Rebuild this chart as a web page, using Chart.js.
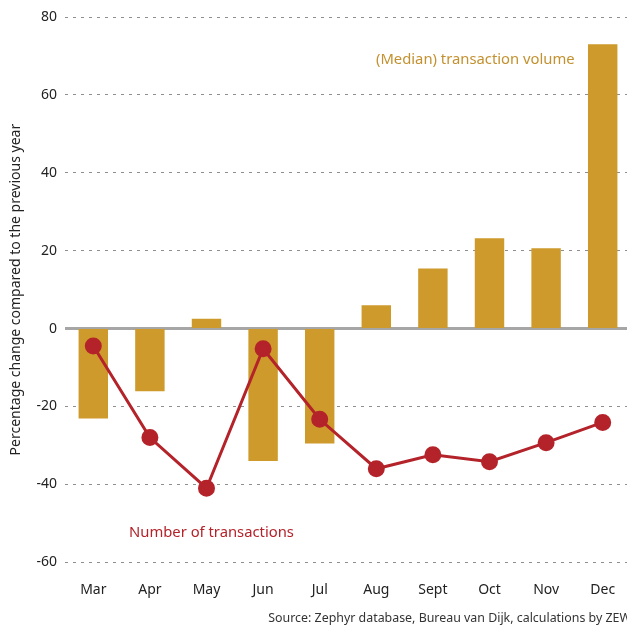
<!DOCTYPE html>
<html>
<head>
<meta charset="utf-8">
<script src="https://cdn.jsdelivr.net/npm/chart.js@4"></script>
<style>
  html, body { margin: 0; padding: 0; background: #fff; overflow: hidden; }
  #wrap { width: 641px; height: 626px; }
</style>
</head>
<body>
<div id="wrap"><canvas id="chart"></canvas></div>
<script>
const months = ['Mar', 'Apr', 'May', 'Jun', 'Jul', 'Aug', 'Sept', 'Oct', 'Nov', 'Dec'];
const volumeChange = [-23.1, -16.1, 2.5, -34, -29.5, 6, 15.4, 23.2, 20.6, 73];
const countChange = [-4.5, -28, -41, -5.2, -23.3, -36, -32.4, -34.2, -29.3, -24.1];
const yTicks = [-60, -40, -20, 0, 20, 40, 60, 80];

const FONT = '"Noto Sans", sans-serif';
const GOLD = '#cd9a2b';
const RED = '#b4232a';

// annotations + source line
const labelsPlugin = {
  id: 'labels',
  afterDraw(chart) {
    const ctx = chart.ctx;
    ctx.save();
    ctx.font = '14.8px ' + FONT;
    ctx.textBaseline = 'middle';
    ctx.textAlign = 'left';
    ctx.fillStyle = '#c3912f';
    ctx.fillText('(Median) transaction volume', 376, 60);
    ctx.fillStyle = RED;
    ctx.fillText('Number of transactions', 129, 533);
    ctx.font = '12.4px ' + FONT;
    ctx.fillStyle = '#333';
    ctx.textAlign = 'right';
    ctx.fillText('Source: Zephyr database, Bureau van Dijk, calculations by ZEW', 631, 618);
    ctx.restore();
  }
};

// solid grey zero line under the marks
const zeroLine = {
  id: 'zeroLine',
  beforeDatasetsDraw(chart) {
    const { ctx, chartArea, scales } = chart;
    const y = scales.y.getPixelForValue(0);
    ctx.save();
    ctx.strokeStyle = '#a6a6a6';
    ctx.lineWidth = 3;
    ctx.beginPath();
    ctx.moveTo(chartArea.left, y);
    ctx.lineTo(chartArea.right, y);
    ctx.stroke();
    ctx.restore();
  }
};

new Chart(document.getElementById('chart').getContext('2d'), {
  data: {
    labels: months,
    datasets: [{
      type: 'line',
      data: countChange,
      borderColor: RED,
      backgroundColor: RED,
      borderWidth: 3,
      pointRadius: 7,
      pointHoverRadius: 7,
      tension: 0,
      order: 0
    }, {
      type: 'bar',
      data: volumeChange,
      backgroundColor: GOLD,
      barPercentage: 0.52,
      categoryPercentage: 1,
      order: 1
    }]
  },
  options: {
    responsive: true,
    maintainAspectRatio: false,
    animation: false,
    layout: { padding: { top: 17, bottom: 17, left: 0, right: 0 } },
    plugins: {
      legend: { display: false },
      tooltip: { enabled: false }
    },
    scales: {
      x: {
        grid: { display: false },
        border: { display: false },
        ticks: { color: '#222', font: { family: FONT, size: 14 }, padding: 11 }
      },
      y: {
        min: -60,
        max: 80,
        afterBuildTicks(scale) { scale.ticks = yTicks.map(v => ({ value: v })); },
        afterFit(scale) { scale.width = 65; },
        border: { display: false, dash: [3, 5] },
        grid: {
          color: ctx => ctx.tick && ctx.tick.value === 0 ? 'rgba(0,0,0,0)' : '#8f8f8f',
          lineWidth: 1,
          tickLength: 0,
          drawTicks: false
        },
        ticks: { color: '#222', font: { family: FONT, size: 14 }, padding: 8 },
        title: {
          display: true,
          text: 'Percentage change compared to the previous year',
          color: '#222',
          font: { family: FONT, size: 14 },
          padding: { top: 8, bottom: 0 }
        }
      }
    }
  },
  plugins: [zeroLine, labelsPlugin]
});
</script>
</body>
</html>
